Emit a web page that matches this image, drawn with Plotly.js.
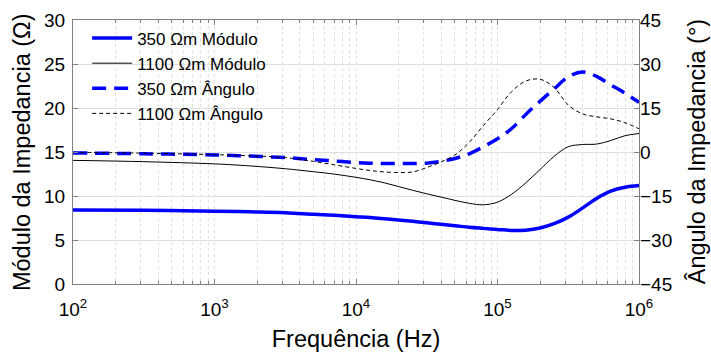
<!DOCTYPE html>
<html>
<head>
<meta charset="utf-8">
<script src="https://cdn.plot.ly/plotly-3.0.1.min.js"></script>
<style>html,body{margin:0;padding:0;background:#fff;}#chart{width:711px;height:354px;}</style>
</head>
<body>
<div id="chart"></div>
<script>
const freq = [100, 316.2, 1000, 1778, 3162, 5012, 7079, 10000, 12589, 15849, 19953, 25119, 31623, 39811, 50119, 63096, 79433, 100000, 125893, 158489, 199526, 251189, 316228, 398107, 501187, 630957, 794328, 1000000];
const mod350 = [8.42, 8.37, 8.28, 8.2, 8.1, 7.92, 7.8, 7.65, 7.55, 7.42, 7.28, 7.12, 6.95, 6.78, 6.62, 6.45, 6.32, 6.2, 6.08, 6.12, 6.36, 6.85, 7.6, 8.62, 9.72, 10.55, 11.0, 11.2];
const mod1100 = [14.05, 13.9, 13.65, 13.42, 13.1, 12.76, 12.48, 12.12, 11.84, 11.5, 11.08, 10.65, 10.25, 9.88, 9.5, 9.17, 9.0, 9.3, 10.2, 11.5, 13.0, 14.5, 15.6, 15.85, 15.9, 16.3, 16.85, 17.1];
const ang350 = [-0.3, -0.6, -1.0, -1.4, -1.9, -2.6, -3.1, -3.6, -3.8, -3.9, -3.95, -3.95, -3.8, -3.2, -2.2, -0.6, 1.8, 4.5, 8.0, 12.8, 17.25, 21.5, 25.6, 27.3, 25.8, 22.9, 20.1, 16.9];
const ang1100 = [-0.1, -0.4, -0.9, -1.3, -1.9, -3.2, -4.4, -5.6, -6.3, -6.8, -7.0, -6.8, -5.3, -3.4, -1.0, 3.3, 9.0, 14.5, 20.6, 24.2, 24.8, 22.0, 16.0, 13.0, 12.0, 11.3, 10.0, 7.9];
const names = ['350 Ωm Módulo', '1100 Ωm Módulo', '350 Ωm Ângulo', '1100 Ωm Ângulo'];
const xTicks = [100, 1000, 10000, 100000, 1000000];
const xTickText = ['10<sup>2</sup>', '10<sup>3</sup>', '10<sup>4</sup>', '10<sup>5</sup>', '10<sup>6</sup>'];
const yLeftTicks = [0, 5, 10, 15, 20, 25, 30];
const yRightTicks = [-45, -30, -15, 0, 15, 30, 45];
const titles = {x: 'Frequência (Hz)', yLeft: 'Módulo da Impedancia (Ω)', yRight: 'Ângulo da Impedancia (°)'};

const FONT = 'Liberation Sans, Arial, Helvetica, sans-serif';
const axisCol = '#808080';
const traces = [
  {x: freq, y: mod350, name: names[0], mode: 'lines', line: {color: '#0000ff', width: 3.5, shape: 'spline', smoothing: 1}},
  {x: freq, y: mod1100, name: names[1], mode: 'lines', line: {color: '#000000', width: 1, shape: 'spline', smoothing: 1}},
  {x: freq, y: ang350, name: names[2], yaxis: 'y2', mode: 'lines', line: {color: '#0000ff', width: 3.5, dash: '14px,8px', shape: 'spline', smoothing: 1}},
  {x: freq, y: ang1100, name: names[3], yaxis: 'y2', mode: 'lines', line: {color: '#000000', width: 1, dash: '4px,3px', shape: 'spline', smoothing: 1}}
];
const layout = {
  width: 711, height: 354,
  margin: {l: 73, r: 72, t: 20, b: 70},
  paper_bgcolor: '#fff', plot_bgcolor: '#fff',
  font: {family: FONT, color: '#000', size: 19},
  showlegend: true,
  legend: {x: 0.025, y: 0.998, xanchor: 'left', yanchor: 'top', bgcolor: 'rgba(0,0,0,0)', font: {size: 17, family: FONT}, itemwidth: 40, tracegroupgap: 0},
  xaxis: {
    type: 'log', range: [2, 6], tickvals: xTicks, ticktext: xTickText, ticklabelstandoff: 8,
    ticks: 'inside', ticklen: 5, tickcolor: axisCol, showline: true, linecolor: axisCol, linewidth: 1, mirror: 'ticks',
    showgrid: true, gridcolor: '#e0e0e0', griddash: 'dot', gridwidth: 1,
    minor: {dtick: 'D1', ticks: 'inside', ticklen: 3, tickcolor: axisCol, showgrid: true, gridcolor: '#e0e0e0', griddash: 'dot'},
    tickfont: {size: 19}, zeroline: false, automargin: false,
    title: {text: titles.x, font: {size: 23.5}, standoff: 11}
  },
  yaxis: {
    range: [0, 30], tickvals: yLeftTicks, ticks: 'inside', ticklen: 5, tickcolor: axisCol, ticklabelstandoff: 3,
    showline: true, linecolor: axisCol, linewidth: 1, mirror: 'ticks', automargin: false,
    showgrid: true, gridcolor: '#e0e0e0', zeroline: false, tickfont: {size: 19}
  },
  yaxis2: {
    range: [-45, 45], tickvals: yRightTicks, overlaying: 'y', side: 'right', ticks: 'inside', ticklen: 5, tickcolor: axisCol,
    showline: false, showgrid: false, zeroline: false, tickfont: {size: 19}, automargin: false
  },
  annotations: [
    {text: titles.yLeft, xref: 'paper', yref: 'paper', x: -0.09, y: 0.5, xanchor: 'center', yanchor: 'middle', textangle: -90, showarrow: false, font: {size: 23.5, family: FONT, color: '#000'}},
    {text: titles.yRight, xref: 'paper', yref: 'paper', x: 1.103, y: 0.5, xanchor: 'center', yanchor: 'middle', textangle: -90, showarrow: false, font: {size: 23.5, family: FONT, color: '#000'}}
  ]
};
Plotly.newPlot('chart', traces, layout, {staticPlot: true, displayModeBar: false});
</script>
</body>
</html>
